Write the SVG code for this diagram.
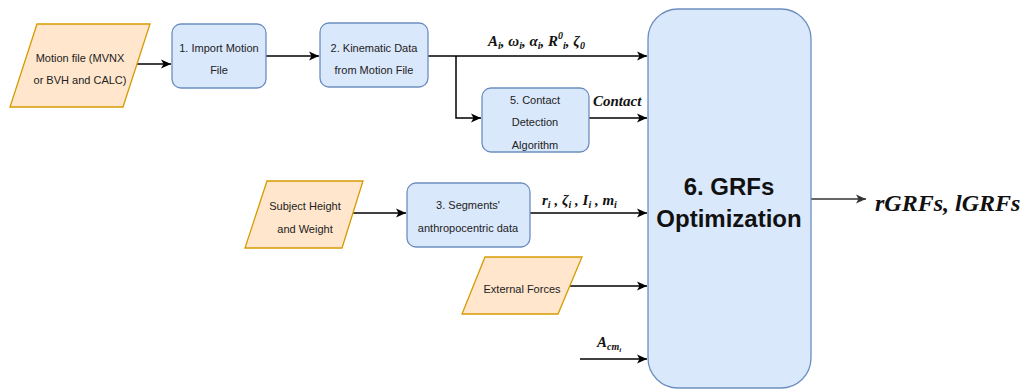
<svg xmlns="http://www.w3.org/2000/svg" width="1026" height="390" viewBox="0 0 1026 390">
<style>
.io{fill:#ffe6cc;stroke:#d79b00;stroke-width:1.3}
.pr{fill:#dae8fc;stroke:#6c8ebf;stroke-width:1.3}
.t{font-family:"Liberation Sans",Arial,sans-serif;font-size:11px;fill:#222;text-anchor:middle}
.big{font-family:"Liberation Sans",Arial,sans-serif;font-size:24px;font-weight:bold;fill:#111;text-anchor:middle}
.m{font-family:"Liberation Serif","Times New Roman",serif;font-style:italic;font-weight:bold;fill:#111}
.c{fill:none;stroke:#000;stroke-width:1.5}
</style>
<defs>
<marker id="ah" markerWidth="12" markerHeight="12" refX="10" refY="6" orient="auto" markerUnits="userSpaceOnUse">
<path d="M0,1.5 L10,6 L0,10.5 L2.5,6 Z" fill="#000"/>
</marker>
<marker id="ahg" markerWidth="12" markerHeight="12" refX="10" refY="6" orient="auto" markerUnits="userSpaceOnUse">
<path d="M0,1.5 L10,6 L0,10.5 L2.5,6 Z" fill="#333"/>
</marker>
</defs>
<rect width="1026" height="390" fill="#fff"/>

<g id="connectors">
<path class="c" d="M137,64 H171" marker-end="url(#ah)"/>
<path class="c" d="M266,56 H319" marker-end="url(#ah)"/>
<path class="c" d="M428,56 H647" marker-end="url(#ah)"/>
<path class="c" d="M456,56 V118 H481" marker-end="url(#ah)"/>
<path class="c" d="M589,118 H647" marker-end="url(#ah)"/>
<path class="c" d="M352,213 H406" marker-end="url(#ah)"/>
<path class="c" d="M530,213 H647" marker-end="url(#ah)"/>
<path class="c" d="M570,286 H647" marker-end="url(#ah)"/>
<path class="c" d="M580,359 H647" marker-end="url(#ah)"/>
<path d="M811,199 H866" fill="none" stroke="#333" stroke-width="1.5" marker-end="url(#ahg)"/>
<text class="m" x="488" y="46" font-size="15">A<tspan font-size="10" dy="3">i</tspan><tspan dy="-3">, ω</tspan><tspan font-size="10" dy="3">i</tspan><tspan dy="-3">, α</tspan><tspan font-size="10" dy="3">i</tspan><tspan dy="-3">, R</tspan><tspan font-size="10" dy="-7">0</tspan><tspan font-size="10" dy="10">i</tspan><tspan dy="-3">, ζ</tspan><tspan font-size="10" dy="3">0</tspan></text>
<text class="m" x="593" y="106" font-size="15">Contact</text>
<text class="m" x="542" y="205" font-size="15">r<tspan font-size="10" dy="3">i</tspan><tspan dy="-3"> , ζ</tspan><tspan font-size="10" dy="3">i</tspan><tspan dy="-3"> , I</tspan><tspan font-size="10" dy="3">i</tspan><tspan dy="-3"> , m</tspan><tspan font-size="10" dy="3">i</tspan></text>
<text class="m" x="597" y="347" font-size="15">A<tspan font-size="10" dy="3">cm</tspan><tspan font-size="7" dy="2">i</tspan></text>
<text class="m" x="875" y="211" font-size="24">rGRFs, lGRFs</text>
</g>

<g id="motion-file">
<polygon class="io" points="37,24 150,24 123,107 10,107"/>
<text class="t" x="80" y="62">Motion file (MVNX</text>
<text class="t" x="80" y="84">or BVH and CALC)</text>
</g>

<g id="import-motion">
<rect class="pr" x="172" y="24" width="94" height="64" rx="9"/>
<text class="t" x="219" y="52">1. Import Motion</text>
<text class="t" x="219" y="74">File</text>
</g>

<g id="kinematic-data">
<rect class="pr" x="320" y="23" width="108" height="64" rx="9"/>
<text class="t" x="374" y="52">2. Kinematic Data</text>
<text class="t" x="374" y="74">from Motion File</text>
</g>

<g id="contact-detection">
<rect class="pr" x="482" y="88" width="107" height="64" rx="9"/>
<text class="t" x="535" y="104">5. Contact</text>
<text class="t" x="535" y="126">Detection</text>
<text class="t" x="535" y="149">Algorithm</text>
</g>

<g id="subject-height">
<polygon class="io" points="267,181 363,181 342,248 245,248"/>
<text class="t" x="305" y="210">Subject Height</text>
<text class="t" x="305" y="233">and Weight</text>
</g>

<g id="segments">
<rect class="pr" x="407" y="183" width="123" height="64" rx="9"/>
<text class="t" x="468" y="209">3. Segments'</text>
<text class="t" x="468" y="232">anthropocentric data</text>
</g>

<g id="external-forces">
<polygon class="io" points="485,257 582,257 558,314 462,314"/>
<text class="t" x="522" y="293">External Forces</text>
</g>

<g id="grf-optimization">
<rect class="pr" x="648" y="9" width="163" height="379" rx="30"/>
<text class="big" x="729" y="195">6. GRFs</text>
<text class="big" x="729" y="227">Optimization</text>
</g>
</svg>
